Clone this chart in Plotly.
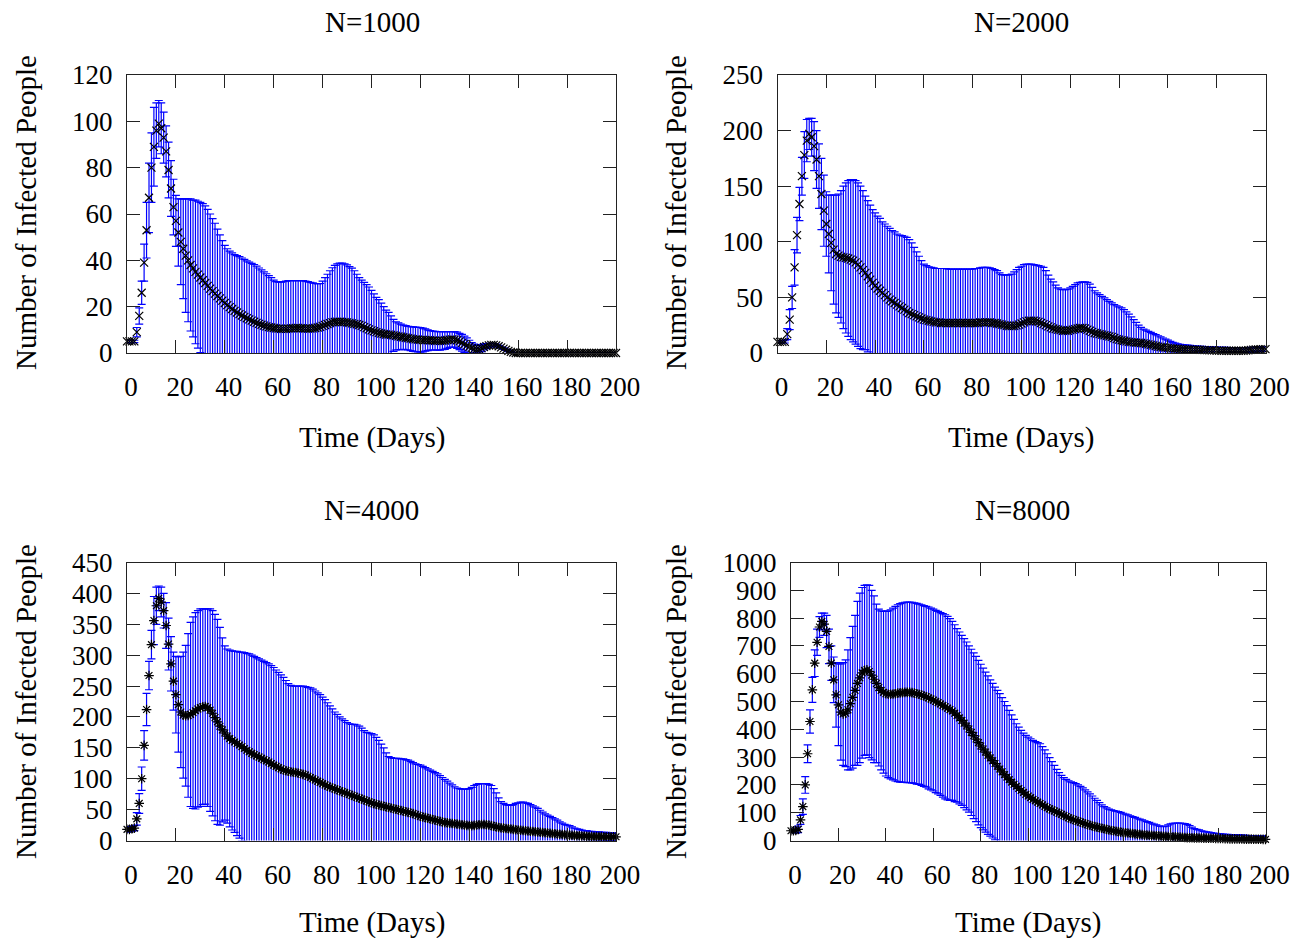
import plotly.graph_objects as go

# ---------------- data (day 0..200, one value per day) ----------------
days = list(range(201))

mean_1000 = [
    5, 5, 5, 5, 9, 16, 26, 39, 53, 67,
    80, 89, 96, 99, 97, 93, 87, 79, 71, 63,
    57, 52, 48, 45, 42, 40, 38, 36.5, 35, 33.8,
    32.6, 31.4, 30.2, 29, 27.8, 26.7, 25.6, 24.6, 23.6, 22.6,
    21.6, 20.7, 19.8, 19.0, 18.2, 17.5, 16.8, 16.2, 15.6, 15.0,
    14.5, 14.0, 13.5, 13.0, 12.6, 12.2, 11.8, 11.5, 11.2, 11.0,
    10.8, 10.6, 10.5, 10.4, 10.4, 10.4, 10.5, 10.6, 10.7, 10.8,
    10.8, 10.7, 10.6, 10.5, 10.5, 10.5, 10.6, 10.8, 11.0, 11.3,
    11.7, 12.1, 12.5, 12.9, 13.2, 13.4, 13.5, 13.5, 13.4, 13.3,
    13.2, 13.0, 12.8, 12.6, 12.4, 12.1, 11.7, 11.2, 10.7, 10.2,
    9.8, 9.4, 9.0, 8.7, 8.4, 8.2, 8.0, 7.9, 7.8, 7.6,
    7.4, 7.2, 7.0, 6.8, 6.6, 6.4, 6.2, 6.0, 5.9, 5.8,
    5.7, 5.6, 5.6, 5.5, 5.5, 5.4, 5.3, 5.2, 5.2, 5.3,
    5.4, 5.6, 5.8, 5.9, 5.8, 5.5, 5.0, 4.4, 3.8, 3.2,
    2.7, 2.2, 1.8, 1.6, 1.7, 2.1, 2.6, 3.0, 3.3, 3.5,
    3.5, 3.3, 2.9, 2.4, 1.9, 1.4, 0.9, 0.5, 0.2, 0,
    0, 0, 0, 0, 0, 0, 0, 0, 0, 0,
    0, 0, 0, 0, 0, 0, 0, 0, 0, 0,
    0, 0, 0, 0, 0, 0, 0, 0, 0, 0,
    0, 0, 0, 0, 0, 0, 0, 0, 0, 0,
    0,
]
upper_1000 = [
    5.5, 5.5, 5.5, 5.5, 11, 19.5, 31, 47, 65, 82,
    95, 106, 108, 109, 108, 104, 98, 91, 83, 75,
    68, 66.5, 66.5, 66.5, 66.5, 66.5, 66.5, 66, 66, 65.5,
    65, 64.5, 63.5, 62, 60, 58, 56, 53.5, 51, 48.5,
    46.5, 45, 44, 43.2, 42.5, 42, 41.6, 41, 40.4, 39.8,
    39.2, 38.7, 38.2, 37.5, 36.7, 35.9, 35, 34.2, 33.4, 32.5,
    31.5, 30.8, 30.6, 30.6, 30.8, 31, 31.2, 31.2, 31.2, 31.2,
    31.2, 31.2, 31.2, 31, 30.8, 30.5, 30.3, 30, 29.8, 30,
    31, 32.5, 34, 35.5, 36.8, 37.8, 38.5, 38.8, 38.8, 38.5,
    38, 37.3, 36.6, 35.5, 34, 32.5, 31.5, 30.5, 29.5, 28.5,
    27, 25.5, 24, 23, 21.5, 20, 18.5, 17.5, 16, 14.5,
    13.5, 13, 12.5, 12, 11.8, 11.5, 11.4, 11.3, 11.2, 11.1,
    11, 10.7, 10.4, 10, 9.7, 9.5, 9.3, 9.2, 9.2, 9.2,
    9.2, 9.2, 9.2, 9.2, 9.2, 9, 8.5, 8, 7.3, 6.5,
    5.5, 4.5, 3.8, 3.4, 3.4, 3.6, 3.9, 4.1, 4.2, 4.2,
    4.1, 3.8, 3.3, 2.7, 2.2, 1.7, 1.2, 0.7, 0.3, 0.1,
    0, 0, 0, 0, 0, 0, 0, 0, 0, 0,
    0, 0, 0, 0, 0, 0, 0, 0, 0, 0,
    0, 0, 0, 0, 0, 0, 0, 0, 0, 0,
    0, 0, 0, 0, 0, 0, 0, 0, 0, 0,
    0,
]

mean_2000 = [
    10, 10, 10, 10, 17, 30, 50, 77, 106, 134,
    159, 178, 191, 197, 194, 186, 174, 159, 143, 128,
    116, 107, 99, 93, 89, 87.5, 86.5, 86, 85.5, 85,
    84, 83, 81.5, 79.5, 77, 74.5, 72, 69, 66, 63,
    60.5, 58, 56, 54, 52, 50, 48, 46.5, 45, 43.5,
    42, 40.5, 39, 37.5, 36, 35, 34, 33, 32, 31,
    30, 29.5, 29, 28.5, 28, 27.5, 27.5, 27, 27, 27,
    27, 27, 27, 27, 27, 27, 27, 27, 27, 27,
    27, 27, 27, 27.5, 27.5, 27.5, 27.5, 27.5, 27, 27,
    26.5, 26, 25.5, 25, 24.5, 24.2, 24.2, 24.4, 24.8, 25.5,
    26.5, 27.5, 28.5, 29, 29, 29, 28.5, 28, 27, 26,
    25, 24, 23, 22, 21.5, 21, 20.5, 20, 20, 20,
    20.5, 21, 21.5, 22, 22.5, 22.5, 22, 21, 20, 19,
    18, 17.5, 17, 16.5, 16, 15.5, 15, 14.5, 13.5, 12.5,
    12, 11.5, 11, 10.5, 10, 9.8, 9.6, 9.4, 9.2, 9,
    8.6, 8.2, 7.8, 7.3, 6.8, 6.3, 5.8, 5.4, 5.0, 4.8,
    4.6, 4.4, 4.2, 4.0, 3.8, 3.6, 3.5, 3.4, 3.3, 3.3,
    3, 3, 3, 2.9, 2.8, 2.7, 2.6, 2.5, 2.4, 2.3,
    2.2, 2.1, 2, 2, 2, 2, 2, 2, 2, 2,
    2, 2, 2.2, 2.5, 2.8, 3, 3.2, 3.3, 3.4, 3.5,
    3.5,
]
upper_2000 = [
    11, 11, 11, 11, 22, 39, 60, 93, 122, 149,
    176, 199, 210, 211, 211, 208, 200, 188, 175, 160,
    145, 142, 142, 142, 142, 143, 146, 150, 153, 155,
    156, 156, 155, 153, 150, 146, 141, 137, 133, 129,
    126, 123, 121, 118, 116, 114, 112, 110, 109, 107,
    106, 105.5, 105, 104, 102, 99, 95, 91, 87, 83,
    80, 78.5, 77.5, 77, 76.5, 76, 76, 76, 76, 76,
    75.5, 75.5, 75.5, 75.5, 75.5, 75.5, 75.5, 75.5, 75.5, 75.5,
    75.5, 76, 76, 76.5, 77, 77, 77, 76.5, 76, 75,
    74, 72, 70.5, 70, 70, 70.5, 71, 73, 75, 77,
    78, 79.5, 80, 80, 80, 79.5, 79, 78.5, 78, 77,
    74, 70, 66.5, 64, 61, 58.5, 57.5, 57, 57, 57.5,
    58.5, 60, 61.5, 63, 63.5, 64, 64, 63.5, 62, 59,
    56, 54, 52.5, 51, 49.5, 48, 46.5, 45, 43.5, 42.5,
    41.5, 40.5, 39, 37, 35, 32.5, 30, 27.5, 25, 23,
    21.5, 20.5, 19.5, 18.5, 17.5, 16.5, 15.5, 14.5, 13.5, 12.5,
    11.5, 10.5, 9.5, 8.8, 8.2, 7.8, 7.5, 7.2, 7, 6.8,
    6.5, 6.3, 6.1, 6, 6, 5.8, 5.6, 5.5, 5.4, 5.3,
    5.2, 5.1, 5, 5, 5, 4.9, 4.8, 4.8, 4.8, 4.8,
    4.8, 4.8, 4.8, 4.9, 5, 5.1, 5.2, 5.3, 5.4, 5.5,
    5.5,
]

mean_4000 = [
    18, 18, 19, 20, 35, 60, 100, 154, 212, 267,
    317, 356, 380, 392, 386, 372, 348, 318, 286, 258,
    236, 220, 208, 203, 202, 202.5, 204, 207, 210, 213,
    215, 216.5, 217, 215, 211, 206, 199, 192, 185, 179,
    174, 169, 165, 162, 159.5, 157, 154.5, 152, 149, 146,
    143.5, 141, 139, 137, 135, 133, 131, 129, 127, 124.5,
    122, 120, 118, 116, 114, 113, 112, 111, 110.5, 110,
    109, 108, 107, 106, 104, 102, 100, 98, 96, 94,
    92, 90, 88, 86.5, 85, 83.5, 82, 80.5, 79, 77.5,
    76, 74.5, 73, 71.5, 70, 68.5, 67, 65.5, 64, 62.5,
    61, 59.5, 58.5, 57.5, 56.5, 55.5, 54.5, 53.5, 52.5, 51.5,
    50.5, 49.5, 48.5, 47.5, 46.5, 45.5, 44.5, 43.5, 42, 40.5,
    39, 38, 37, 36, 35, 34, 33, 32, 31, 30,
    29, 28.5, 28, 27.5, 27, 26.5, 26, 25.5, 25, 24.5,
    24, 24, 24.5, 25, 25.5, 26, 26, 25.5, 25, 24,
    23, 22, 21, 20.5, 20, 19.5, 19, 18.5, 18, 17.5,
    17, 16.6, 16.2, 15.8, 15.4, 15, 14.6, 14.2, 13.8, 13.4,
    13, 12.6, 12.2, 11.8, 11.4, 11, 10.6, 10.2, 9.8, 9.4,
    9, 8.7, 8.4, 8.1, 7.8, 7.6, 7.4, 7.2, 7, 6.8,
    6.6, 6.5, 6.4, 6.3, 6.2, 6.1, 6, 6, 6, 6,
    6,
]
upper_4000 = [
    22, 22, 23, 24, 45, 76, 119, 178, 238, 290,
    340, 395, 410, 412, 410, 400, 385, 360, 330, 305,
    298, 297, 298, 305, 316, 335, 353, 362, 369, 372,
    375, 375, 375, 375, 375, 372, 366, 358, 345, 328,
    315, 310, 308, 307, 306, 306, 305, 305, 304, 303,
    302, 300, 298, 296, 294, 292, 290, 288, 286, 283,
    280, 276, 272, 268, 264, 259, 254, 251, 250, 250,
    250, 250, 250, 249, 248, 247, 245, 242, 239, 236,
    232, 228, 223, 218, 213, 208, 204, 200, 197, 194,
    191, 189, 188, 188, 187, 185, 182, 178, 175, 174,
    173, 171, 167, 162, 156, 150, 142, 136, 134, 133,
    133, 133, 132, 132, 131, 130, 128, 126, 124, 123,
    122, 120, 118, 116, 114, 112, 110, 108, 105, 102,
    99, 96, 93, 90, 87, 85, 84, 83, 83, 83,
    84, 86, 89, 91, 92, 92, 92, 92, 91, 89,
    84, 77, 69, 63, 60, 58, 57, 57, 58, 60,
    61, 62, 62, 61, 60, 58, 56, 54, 52, 49,
    46, 43, 41, 39, 37, 35, 33, 30, 28, 26,
    25, 24, 22, 20, 19, 18, 17, 16, 16, 15,
    15, 14, 14, 14, 13, 13, 13, 12, 12, 12,
    12,
]

mean_8000 = [
    35, 35, 36, 40, 74, 122, 200, 312, 428, 542,
    638, 713, 768, 788, 778, 752, 698, 638, 578, 524,
    488, 462, 455, 458, 470, 492, 515, 540, 565, 585,
    603, 612, 614, 608, 595, 580, 565, 550, 540, 533,
    528, 526, 526, 527, 528, 530, 531, 532, 533, 533,
    533, 532, 530, 528, 526, 523, 520, 517, 513, 509,
    505, 500, 496, 491, 486, 481, 476, 471, 466, 458,
    450, 441, 432, 422, 412, 401, 389, 377, 365, 352,
    340, 329, 318, 307, 297, 287, 277, 267, 257, 247,
    237, 228, 219, 210, 202, 195, 187, 180, 173, 166,
    160, 154, 148, 143, 138, 133, 128, 123, 118, 114,
    110, 106, 102, 98, 94, 90, 86, 82, 78, 75,
    72, 69, 66, 63, 60, 57, 55, 52, 50, 48,
    46, 44, 42, 40, 38, 36, 35, 33, 32, 30,
    29, 28, 27, 26, 25, 24, 23, 22, 21, 20,
    19.5, 19, 18.5, 18, 17, 16.5, 16, 15.5, 15, 14.5,
    14, 13.5, 13, 12.5, 12, 11.5, 11, 10.5, 10, 10,
    9.5, 9.5, 9, 9, 8.5, 8.5, 8, 8, 8, 7.5,
    7.5, 7, 7, 6.5, 6.5, 6, 6, 6, 5.5, 5.5,
    5.5, 5, 5, 5, 5, 4.5, 4.5, 4.5, 4.5, 4,
    4,
]
upper_8000 = [
    38, 40, 45, 52, 90, 150, 230, 344, 470, 587,
    686, 760, 805, 818, 818, 810, 760, 700, 660, 640,
    635, 635, 640, 650, 686, 730, 770, 810, 860, 890,
    910, 918, 920, 918, 900, 880, 850, 832, 826, 824,
    824, 826, 830, 836, 842, 848, 852, 855, 857, 858,
    858, 857, 855, 853, 850, 848, 845, 842, 840, 836,
    832, 828, 824, 820, 816, 812, 806, 798, 788, 776,
    762, 750, 738, 726, 714, 700, 688, 675, 662, 648,
    634, 620, 606, 592, 578, 565, 552, 540, 528, 514,
    500, 485, 468, 452, 436, 420, 408, 396, 386, 378,
    372, 366, 360, 356, 352, 348, 338, 326, 312, 298,
    284, 270, 256, 244, 234, 226, 220, 215, 211, 208,
    205, 200, 195, 189, 182, 175, 168, 160, 152, 144,
    136, 128, 122, 117, 113, 110, 108, 106, 104, 101,
    98, 95, 92, 89, 86, 83, 80, 77, 74, 71,
    68, 65, 62, 59, 56, 53, 51, 50, 52, 56,
    60, 62, 63, 63, 63, 62, 61, 58, 54, 48,
    43, 40, 38, 35, 33, 31, 30, 28, 27, 26,
    25, 24, 23, 22, 22, 21, 21, 20, 20, 20,
    19, 19, 18, 18, 18, 17, 17, 16, 16, 16,
    16,
]

panel_titles = ["N=1000", "N=2000", "N=4000", "N=8000"]
x_ticks = list(range(0, 201, 20))
y_ranges = [(0, 120), (0, 250), (0, 450), (0, 1000)]
y_dtick = [20, 50, 50, 100]
markers = ["x-thin-open", "x-thin-open", "asterisk-open", "asterisk-open"]
x_title = "Time (Days)"
y_title = "Number of Infected People"

series = [(mean_1000, upper_1000), (mean_2000, upper_2000),
          (mean_4000, upper_4000), (mean_8000, upper_8000)]

# ---------------- layout geometry (pixels) ----------------
W, H = 1305, 938
frames = [  # (left, right, top, bottom)
    (127, 616, 75, 353),
    (777.5, 1265.5, 75, 353),
    (127, 616, 562.5, 840.5),
    (791, 1265.5, 562.5, 840.5),
]
title_pos = [(372, 22), (1021, 22), (371, 510), (1022, 510)]
xtitle_pos = [(372, 437), (1021, 437), (372, 922), (1028, 922)]
ytitle_pos = [(26, 213), (676, 213), (26, 702), (676, 702)]

FONT = "Liberation Serif, Times New Roman, serif"
AX_COLOR = "#222222"
BLUE = "rgb(0,0,255)"

fig = go.Figure()
layout = dict(
    width=W, height=H, autosize=False,
    margin=dict(l=0, r=0, t=0, b=0, pad=0, autoexpand=False),
    paper_bgcolor="white", plot_bgcolor="white",
    showlegend=False,
    font=dict(family=FONT, color="black", size=27),
    annotations=[],
)

for i, (mean, upper) in enumerate(series):
    n = min(len(days), len(mean), len(upper))
    x = days[:n]
    m = mean[:n]
    sd = [max(u - v, 0) for u, v in zip(upper[:n], m)]
    xa = "x" if i == 0 else f"x{i+1}"
    ya = "y" if i == 0 else f"y{i+1}"
    # error bars (clipped to plot area)
    fig.add_trace(go.Scatter(
        x=x, y=m, mode="markers", xaxis=xa, yaxis=ya,
        marker=dict(size=1, color="rgba(0,0,0,0)"),
        error_y=dict(type="data", array=sd, symmetric=True,
                     color=BLUE, thickness=1.2, width=4),
        hoverinfo="skip",
    ))
    # mean markers
    fig.add_trace(go.Scatter(
        x=x, y=m, mode="markers", xaxis=xa, yaxis=ya,
        marker=dict(symbol=markers[i], size=8, color="black",
                    line=dict(color="black", width=1.2)),
        cliponaxis=False,
    ))

    l, r, t, b = frames[i]
    xkey = "xaxis" if i == 0 else f"xaxis{i+1}"
    ykey = "yaxis" if i == 0 else f"yaxis{i+1}"
    common = dict(
        showgrid=False, zeroline=False, showline=True, linecolor=AX_COLOR,
        linewidth=1, mirror="ticks", ticks="inside", ticklen=13,
        tickwidth=1, tickcolor=AX_COLOR, automargin=False,
        tickfont=dict(family=FONT, size=27, color="black"),
    )
    layout[xkey] = dict(
        common, domain=[l / W, r / W], range=[0, 200],
        tickmode="array", tickvals=x_ticks, anchor=ya,
        ticklabelstandoff=10, ticklabelshift=4,
    )
    ymin, ymax = y_ranges[i]
    layout[ykey] = dict(
        common, domain=[1 - b / H, 1 - t / H], range=[ymin, ymax],
        tickmode="linear", tick0=0, dtick=y_dtick[i], anchor=xa,
        ticklabelstandoff=8,
    )

    for (px, py), txt, ang in [
        (title_pos[i], panel_titles[i], 0),
        (xtitle_pos[i], x_title, 0),
        (ytitle_pos[i], y_title, -90),
    ]:
        layout["annotations"].append(dict(
            x=px / W, y=1 - py / H, xref="paper", yref="paper",
            text=txt, showarrow=False, textangle=ang,
            xanchor="center", yanchor="middle",
            font=dict(family=FONT, size=29, color="black"),
        ))

fig.update_layout(**layout)
fig.write_html("out.html")
